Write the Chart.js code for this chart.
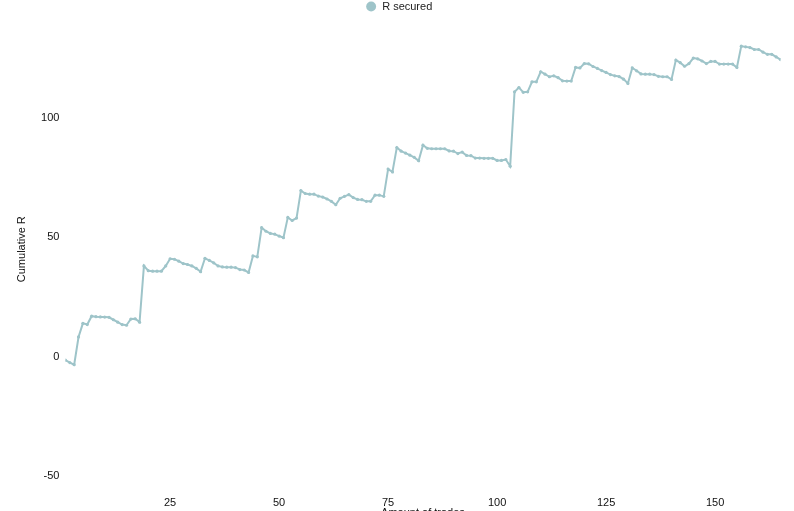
<!DOCTYPE html>
<html>
<head>
<meta charset="utf-8">
<script src="https://cdn.jsdelivr.net/npm/chart.js@4"></script>
<style>
  html, body { margin: 0; padding: 0; background: #fff; overflow: hidden; }
  #wrap { width: 794px; height: 524px; }
</style>
</head>
<body>
<div id="wrap"><canvas id="c" width="794" height="524"></canvas></div>
<script>
const trades = [1,2,3,4,5,6,7,8,9,10,11,12,13,14,15,16,17,18,19,20,21,22,23,24,25,26,27,28,29,30,31,32,33,34,35,36,37,38,39,40,41,42,43,44,45,46,47,48,49,50,51,52,53,54,55,56,57,58,59,60,61,62,63,64,65,66,67,68,69,70,71,72,73,74,75,76,77,78,79,80,81,82,83,84,85,86,87,88,89,90,91,92,93,94,95,96,97,98,99,100,101,102,103,104,105,106,107,108,109,110,111,112,113,114,115,116,117,118,119,120,121,122,123,124,125,126,127,128,129,130,131,132,133,134,135,136,137,138,139,140,141,142,143,144,145,146,147,148,149,150,151,152,153,154,155,156,157,158,159,160,161,162,163,164,165];

const rSecured = [
  -1.4, -2.4, -3.3, 8.3, 14, 13.5, 17, 16.8, 16.7, 16.6,
  16.5, 15.5, 14.5, 13.5, 13.2, 15.8, 15.9, 14.5, 38, 36,
  35.8, 35.8, 35.8, 38, 41, 40.8, 40, 39, 38.6, 38,
  37, 35.6, 41.2, 40.3, 39.3, 38, 37.6, 37.5, 37.5, 37.3,
  36.5, 36.3, 35.3, 42.2, 41.8, 54, 52.5, 51.6, 51.3, 50.5,
  49.8, 58.3, 57, 58, 69.5, 68.3, 68, 68, 67.2, 66.8,
  66, 65, 63.6, 66.3, 67.1, 67.8, 66.6, 65.8, 65.7, 65,
  65, 67.6, 67.6, 67.1, 78.5, 77.3, 87.5, 86, 85.2, 84.3,
  83.4, 82, 88.5, 87.2, 87, 87, 87, 87, 86.1, 86,
  85, 85.6, 84.2, 84.1, 83.1, 83.1, 83, 83, 83, 82.1,
  82.1, 82.5, 79.7, 110.8, 112.6, 110.6, 110.8, 115, 115, 119.2,
  118.2, 117.1, 117.5, 116.7, 115.4, 115.3, 115.3, 121, 120.8, 122.6,
  122.5, 121.4, 120.6, 119.7, 118.9, 118, 117.5, 117.2, 116.1, 114.3,
  120.8, 119.6, 118.3, 118.2, 118.2, 118, 117.3, 117.1, 117.1, 116,
  124.1, 123, 121.5, 122.6, 124.9, 124.6, 123.7, 122.6, 123.5, 123.5,
  122.4, 122.4, 122.4, 122.4, 121, 129.9, 129.6, 129.3, 128.5, 128.5,
  127.4, 126.5, 126.5, 125.4, 124.3
];

const xTicks = [25, 50, 75, 100, 125, 150];
const yTicks = [-50, 0, 50, 100];

const lineColor = '#9ec4c9';
const fontFamily = "'Liberation Sans', Arial, sans-serif";

new Chart(document.getElementById('c'), {
  type: 'line',
  data: {
    labels: trades,
    datasets: [{
      label: 'R secured',
      data: rSecured,
      borderColor: lineColor,
      backgroundColor: lineColor,
      borderWidth: 2,
      pointRadius: 1.6,
      pointHoverRadius: 3,
      pointBackgroundColor: lineColor,
      pointBorderColor: lineColor,
      pointBorderWidth: 0,
      tension: 0,
      fill: false
    }]
  },
  options: {
    responsive: false,
    animation: false,
    layout: { padding: { left: 17.4, right: 13.5, top: 0, bottom: 0 } },
    plugins: {
      legend: {
        position: 'top',
        labels: {
          usePointStyle: true,
          pointStyle: 'circle',
          boxWidth: 11,
          boxHeight: 7,
          padding: 1,
          color: '#222',
          font: { family: fontFamily, size: 11 }
        }
      },
      tooltip: { enabled: false }
    },
    scales: {
      x: {
        type: 'linear',
        min: 1,
        max: 165,
        grid: { display: false, drawTicks: false },
        border: { display: false },
        afterBuildTicks: (scale) => {
          scale.ticks = xTicks.map(v => ({ value: v }));
        },
        ticks: {
          maxRotation: 0,
          minRotation: 0,
          padding: 20.4,
          color: '#111',
          font: { family: fontFamily, size: 11 }
        },
        title: {
          display: true,
          text: 'Amount of trades',
          color: '#111',
          padding: { top: -23.6, bottom: 4 },
          font: { family: fontFamily, size: 11 }
        }
      },
      y: {
        min: -50,
        max: 140,
        grid: { display: false, drawTicks: false },
        border: { display: false },
        afterBuildTicks: (scale) => {
          scale.ticks = yTicks.map(v => ({ value: v }));
        },
        ticks: {
          padding: 6,
          color: '#111',
          font: { family: fontFamily, size: 11 }
        },
        title: {
          display: true,
          text: 'Cumulative R',
          color: '#111',
          padding: { top: -2, bottom: 6.5 },
          font: { family: fontFamily, size: 11 }
        }
      }
    }
  }
});
</script>
</body>
</html>
